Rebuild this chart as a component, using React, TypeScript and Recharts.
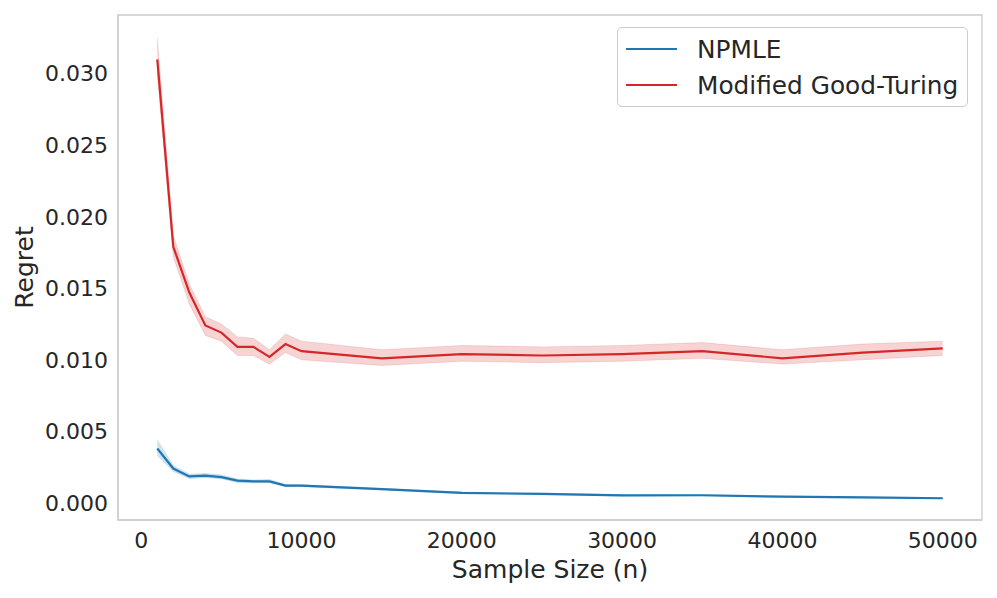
import {
  ComposedChart,
  Line,
  Area,
  XAxis,
  YAxis,
  ReferenceArea,
  Label,
} from "recharts";

const sampleSizes = [
  1000, 2000, 3000, 4000, 5000, 6000, 7000, 8000, 9000, 10000, 15000, 20000,
  25000, 30000, 35000, 40000, 45000, 50000,
];

const npmleMean = [
  0.0038, 0.0024, 0.00185, 0.0019, 0.0018, 0.00155, 0.0015, 0.0015, 0.0012,
  0.0012, 0.00096, 0.0007, 0.00062, 0.00052, 0.00053, 0.00043, 0.00038,
  0.00032,
];
const npmleLow = [
  0.0033, 0.0022, 0.0017, 0.00175, 0.00168, 0.00143, 0.0014, 0.0014, 0.00112,
  0.00113, 0.0009, 0.00065, 0.00057, 0.00048, 0.00049, 0.00039, 0.00034,
  0.00028,
];
const npmleHigh = [
  0.0044, 0.0026, 0.002, 0.00205, 0.00195, 0.00167, 0.0016, 0.00163, 0.00128,
  0.00127, 0.00102, 0.00075, 0.00067, 0.00056, 0.00057, 0.00047, 0.00042,
  0.00036,
];

const mgtMean = [
  0.031, 0.0179, 0.0147, 0.0124, 0.0119, 0.0109, 0.0109, 0.0102, 0.0111,
  0.0106, 0.0101, 0.0104, 0.0103, 0.0104, 0.0106, 0.0101, 0.0105, 0.0108,
];
const mgtLow = [
  0.03, 0.0172, 0.0139, 0.0117, 0.0113, 0.0103, 0.0103, 0.0097, 0.0105, 0.01,
  0.0096, 0.0099, 0.0098, 0.0099, 0.0101, 0.0097, 0.01, 0.0103,
];
const mgtHigh = [
  0.0325, 0.0187, 0.0153, 0.013, 0.0125, 0.0116, 0.0115, 0.0107, 0.0118,
  0.0113, 0.0107, 0.011, 0.0109, 0.011, 0.0112, 0.0107, 0.0111, 0.0113,
];

const xTicks = [0, 10000, 20000, 30000, 40000, 50000];
const yTicks = [0, 0.005, 0.01, 0.015, 0.02, 0.025, 0.03];

const BLUE = "#1f77b4";
const RED = "#d62728";
const TEXT = "#262626";
const EDGE = "#cccccc";
const FONT = "'DejaVu Sans', sans-serif";

const X_DOMAIN: [number, number] = [-1450, 52450];
const Y_DOMAIN: [number, number] = [-0.0012, 0.0341];

const data = sampleSizes.map((n, i) => ({
  n,
  npmle: npmleMean[i],
  npmleBand: [npmleLow[i], npmleHigh[i]],
  mgt: mgtMean[i],
  mgtBand: [mgtLow[i], mgtHigh[i]],
}));

const legendItems = [
  { name: "NPMLE", color: BLUE },
  { name: "Modified Good-Turing", color: RED },
];

export default function App() {
  const tick = { fill: TEXT, fontSize: 22, fontFamily: FONT };

  return (
    <div
      style={{
        position: "absolute",
        left: 0,
        top: 0,
        width: 997,
        height: 598,
        background: "#fff",
        fontFamily: FONT,
      }}
    >
      <ComposedChart
        width={997}
        height={598}
        data={data}
        margin={{ top: 15, right: 15, bottom: 0, left: 0 }}
      >
        <XAxis
          dataKey="n"
          type="number"
          domain={X_DOMAIN}
          ticks={xTicks}
          allowDataOverflow
          tickLine={false}
          tickSize={0}
          tickMargin={12}
          height={78}
          axisLine={{ stroke: EDGE, strokeWidth: 1.3 }}
          tick={tick}
        >
          <Label
            value="Sample Size (n)"
            position="insideBottom"
            offset={20}
            style={{ fill: TEXT, fontSize: 25, fontFamily: FONT }}
          />
        </XAxis>
        <YAxis
          type="number"
          domain={Y_DOMAIN}
          ticks={yTicks}
          allowDataOverflow
          tickLine={false}
          tickSize={0}
          tickMargin={10}
          width={118}
          axisLine={{ stroke: EDGE, strokeWidth: 1.3 }}
          tick={tick}
          tickFormatter={(v: number) => v.toFixed(3)}
        >
          <Label
            value="Regret"
            angle={-90}
            position="insideLeft"
            offset={24}
            style={{
              fill: TEXT,
              fontSize: 25,
              fontFamily: FONT,
              textAnchor: "middle",
            }}
          />
        </YAxis>
        <ReferenceArea
          x1={X_DOMAIN[0]}
          x2={X_DOMAIN[1]}
          y1={Y_DOMAIN[0]}
          y2={Y_DOMAIN[1]}
          fill="none"
          stroke={EDGE}
          strokeWidth={1.3}
          ifOverflow="visible"
        />
        <Area
          dataKey="npmleBand"
          type="linear"
          fill={BLUE}
          fillOpacity={0.2}
          stroke={BLUE}
          strokeOpacity={0.15}
          strokeWidth={1}
          isAnimationActive={false}
          activeDot={false}
        />
        <Area
          dataKey="mgtBand"
          type="linear"
          fill={RED}
          fillOpacity={0.2}
          stroke={RED}
          strokeOpacity={0.15}
          strokeWidth={1}
          isAnimationActive={false}
          activeDot={false}
        />
        <Line
          dataKey="npmle"
          type="linear"
          stroke={BLUE}
          strokeWidth={2.2}
          dot={false}
          isAnimationActive={false}
        />
        <Line
          dataKey="mgt"
          type="linear"
          stroke={RED}
          strokeWidth={2.2}
          dot={false}
          isAnimationActive={false}
        />
      </ComposedChart>

      {/* legend box, upper right like matplotlib */}
      <div
        style={{
          position: "absolute",
          left: 617,
          top: 27,
          width: 351,
          height: 80,
          border: `1.3px solid ${EDGE}`,
          borderRadius: 5,
          boxSizing: "border-box",
          background: "rgba(255,255,255,0.8)",
          paddingTop: 3,
        }}
      >
        {legendItems.map((item) => (
          <div
            key={item.name}
            style={{
              display: "flex",
              alignItems: "center",
              height: 36,
              color: TEXT,
              fontSize: 24.8,
            }}
          >
            <div
              style={{
                width: 51,
                height: 2.2,
                background: item.color,
                marginLeft: 8,
                marginRight: 20,
              }}
            />
            <span>{item.name}</span>
          </div>
        ))}
      </div>
    </div>
  );
}
